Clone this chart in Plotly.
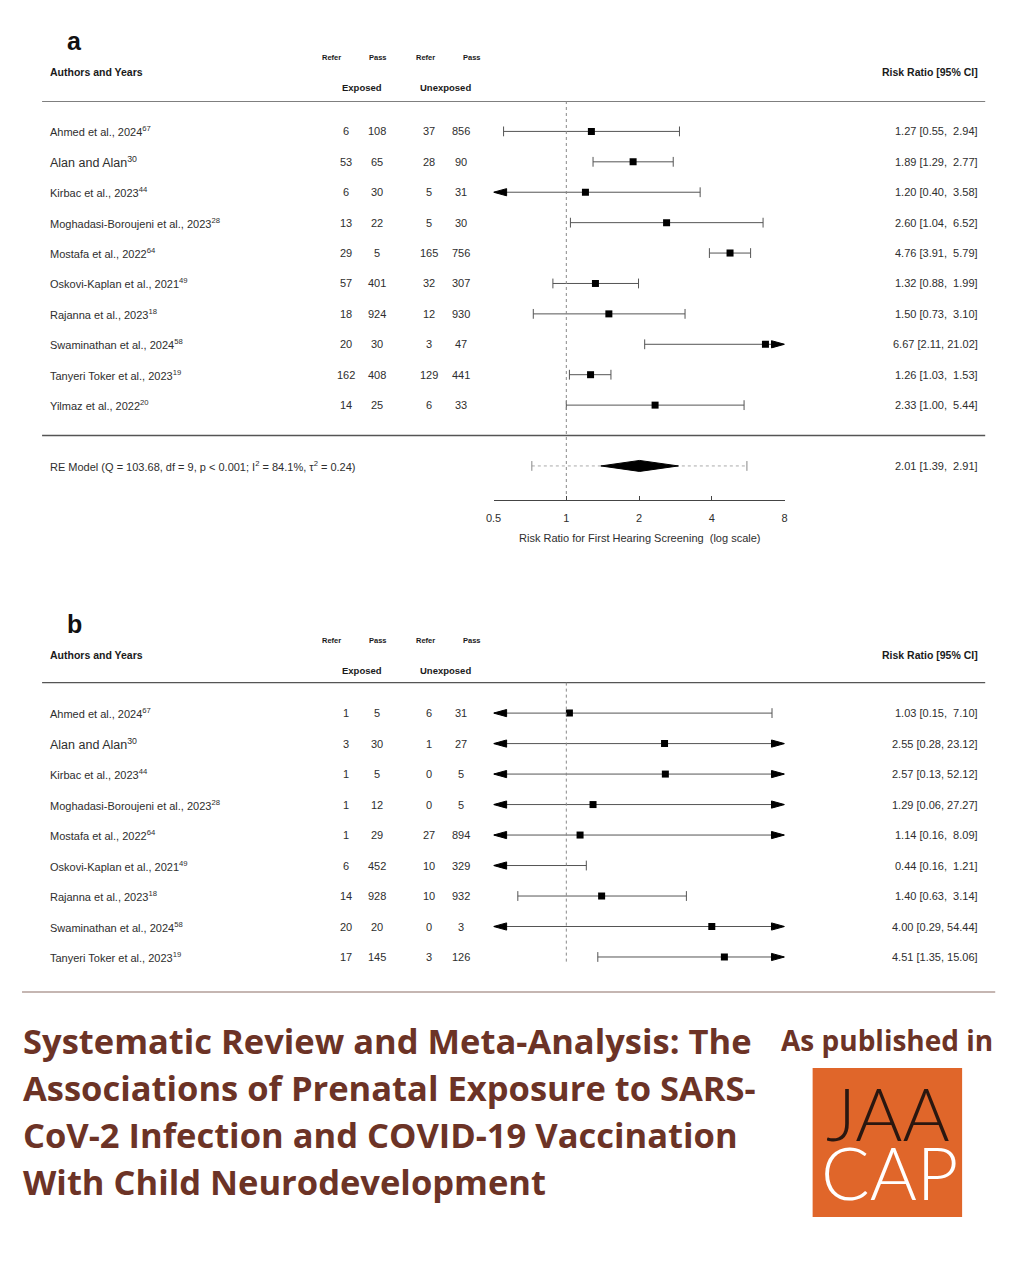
import plotly.graph_objects as go

# ---- data: panel a (first hearing screening) ----
a_studies = ["Ahmed et al., 2024<sup>67</sup>", "Alan and Alan<sup>30</sup>", "Kirbac et al., 2023<sup>44</sup>",
             "Moghadasi-Boroujeni et al., 2023<sup>28</sup>", "Mostafa et al., 2022<sup>64</sup>",
             "Oskovi-Kaplan et al., 2021<sup>49</sup>", "Rajanna et al., 2023<sup>18</sup>",
             "Swaminathan et al., 2024<sup>58</sup>", "Tanyeri Toker et al., 2023<sup>19</sup>",
             "Yilmaz et al., 2022<sup>20</sup>"]
a_exp_refer = [6, 53, 6, 13, 29, 57, 18, 20, 162, 14]
a_exp_pass = [108, 65, 30, 22, 5, 401, 924, 30, 408, 25]
a_unexp_refer = [37, 28, 5, 5, 165, 32, 12, 3, 129, 6]
a_unexp_pass = [856, 90, 31, 30, 756, 307, 930, 47, 441, 33]
a_rr = [1.27, 1.89, 1.20, 2.60, 4.76, 1.32, 1.50, 6.67, 1.26, 2.33]
a_lo = [0.55, 1.29, 0.40, 1.04, 3.91, 0.88, 0.73, 2.11, 1.03, 1.00]
a_hi = [2.94, 2.77, 3.58, 6.52, 5.79, 1.99, 3.10, 21.02, 1.53, 5.44]

re_label = "RE Model (Q = 103.68, df = 9, p < 0.001; I<sup>2</sup> = 84.1%, \u03c4<sup>2</sup> = 0.24)"
re_rr, re_lo, re_hi = 2.01, 1.39, 2.91
re_pi_lo, re_pi_hi = 0.72, 5.59

# ---- data: panel b ----
b_studies = a_studies[:9]
b_exp_refer = [1, 3, 1, 1, 1, 6, 14, 20, 17]
b_exp_pass = [5, 30, 5, 12, 29, 452, 928, 20, 145]
b_unexp_refer = [6, 1, 0, 0, 27, 10, 10, 0, 3]
b_unexp_pass = [31, 27, 5, 5, 894, 329, 932, 3, 126]
b_rr = [1.03, 2.55, 2.57, 1.29, 1.14, 0.44, 1.40, 4.00, 4.51]
b_lo = [0.15, 0.28, 0.13, 0.06, 0.16, 0.16, 0.63, 0.29, 1.35]
b_hi = [7.10, 23.12, 52.12, 27.27, 8.09, 1.21, 3.14, 54.44, 15.06]

x_ticks = [0.5, 1, 2, 4, 8]
x_title = "Risk Ratio for First Hearing Screening\u00a0\u00a0(log scale)"

title_lines = ["Systematic Review and Meta-Analysis: The",
               "Associations of Prenatal Exposure to SARS-",
               "CoV-2 Infection and COVID-19 Vaccination",
               "With Child Neurodevelopment"]

XMIN, XMAX = 0.5, 8
TXT = "#2e2e2e"
HDR = "#1a1a1a"
CI = "#555555"
BROWN = "#6c3326"
FONT = "Liberation Sans, Arial, sans-serif"


# pixel positions of the reference -> paper fractions (compensates page offset seen in the render)
def px(p):
    return (p - 16) / 0.986 / 1024


def py(p):
    return 1 - (p - 8) / 1280


def fmt_ci(est, lo, hi):
    return "%.2f [%.2f, %s]" % (est, lo, ("%.2f" % hi).rjust(5, "\u00a0"))


def note(fig, x, y, text, size, color=TXT, xanchor="center", xref="paper", yref="paper", family=FONT, **kw):
    fig.add_annotation(x=x, y=y, xref=xref, yref=yref, text=text, showarrow=False,
                       xanchor=xanchor, yanchor="middle",
                       font=dict(size=size, color=color, family=family, **kw))


def add_forest(fig, xr, yr, studies, er, ep, ur, up, rr, lo, hi, row_h):
    k = len(studies)
    rows = list(range(k, 0, -1))
    arrow_f = 2 ** (13 / 72.5)
    arrow_h = 3.6 / row_h

    line_x, line_y, cap_x, cap_y, tri_x, tri_y, sq_x, sq_y = [], [], [], [], [], [], [], []
    for r, e, l, h in zip(rows, rr, lo, hi):
        line_x += [max(l, XMIN), min(h, XMAX), None]
        line_y += [r, r, None]
        if l >= XMIN:
            cap_x.append(l); cap_y.append(r)
        else:
            tri_x += [XMIN, XMIN * arrow_f, XMIN * arrow_f, XMIN, None]
            tri_y += [r, r + arrow_h, r - arrow_h, r, None]
        if h <= XMAX:
            cap_x.append(h); cap_y.append(r)
        else:
            tri_x += [XMAX, XMAX / arrow_f, XMAX / arrow_f, XMAX, None]
            tri_y += [r, r + arrow_h, r - arrow_h, r, None]
        if XMIN <= e <= XMAX:
            sq_x.append(e); sq_y.append(r)

    fig.add_trace(go.Scatter(x=line_x, y=line_y, mode="lines", line=dict(color=CI, width=1),
                             xaxis=xr, yaxis=yr, hoverinfo="skip"))
    fig.add_trace(go.Scatter(x=cap_x, y=cap_y, mode="markers", xaxis=xr, yaxis=yr, hoverinfo="skip",
                             marker=dict(symbol="line-ns", size=7, line=dict(color=CI, width=1))))
    if tri_x:
        fig.add_trace(go.Scatter(x=tri_x, y=tri_y, mode="lines", fill="toself", fillcolor="black",
                                 line=dict(color="black", width=1), xaxis=xr, yaxis=yr,
                                 hoverinfo="skip", cliponaxis=False))
    fig.add_trace(go.Scatter(x=sq_x, y=sq_y, mode="markers", xaxis=xr, yaxis=yr,
                             marker=dict(symbol="square", size=7, color="black")))

    yref = "y" if yr == "y" else "y2"
    cols = [(345, er), (376, ep), (428, ur), (460, up)]
    for i, r in enumerate(rows):
        size = 12.5 if studies[i].startswith("Alan") else 11
        note(fig, px(48), r, studies[i], size, xanchor="left", yref=yref)
        for cx, vals in cols:
            note(fig, px(cx), r, str(vals[i]), 11, yref=yref)
        note(fig, px(977), r, fmt_ci(rr[i], lo[i], hi[i]), 11, xanchor="right", yref=yref)


def add_headers(fig, letter, top):
    # top = pixel y of the panel letter
    note(fig, px(74), py(top), "<b>%s</b>" % letter, 25, color="#111")
    for cx, t in [(330, "Refer"), (377, "Pass"), (424, "Refer"), (470, "Pass")]:
        note(fig, px(cx), py(top + 16), "<b>%s</b>" % t, 7.5, color=HDR)
    note(fig, px(48), py(top + 31), "<b>Authors and Years</b>", 10.5, color=HDR, xanchor="left")
    note(fig, px(977), py(top + 31), "<b>Risk Ratio [95% CI]</b>", 10.5, color=HDR, xanchor="right")
    for cx, t in [(361, "Exposed"), (444, "Unexposed")]:
        note(fig, px(cx), py(top + 46), "<b>%s</b>" % t, 9.5, color=HDR)


fig = go.Figure()

add_forest(fig, "x", "y", a_studies, a_exp_refer, a_exp_pass, a_unexp_refer, a_unexp_pass,
           a_rr, a_lo, a_hi, 30.44)
add_forest(fig, "x2", "y2", b_studies, b_exp_refer, b_exp_pass, b_unexp_refer, b_unexp_pass,
           b_rr, b_lo, b_hi, 30.5)

# pooled estimate (panel a)
fig.add_trace(go.Scatter(x=[re_pi_lo, re_pi_hi], y=[-1, -1], mode="lines", xaxis="x", yaxis="y",
                         line=dict(color="#aaa", width=1, dash="dot"), hoverinfo="skip"))
fig.add_trace(go.Scatter(x=[re_pi_lo, re_pi_hi], y=[-1, -1], mode="markers", xaxis="x", yaxis="y",
                         marker=dict(symbol="line-ns", size=7, line=dict(color="#888", width=1)),
                         hoverinfo="skip"))
dh = 5.5 / 30.44
fig.add_trace(go.Scatter(x=[re_lo, re_rr, re_hi, re_rr, re_lo], y=[-1, -1 + dh, -1, -1 - dh, -1],
                         mode="lines", fill="toself", fillcolor="black", line=dict(color="black", width=1),
                         xaxis="x", yaxis="y"))
note(fig, px(48), -1, re_label, 11, xanchor="left", yref="y")
note(fig, px(977), -1, fmt_ci(re_rr, re_lo, re_hi), 11, xanchor="right", yref="y")
note(fig, px(637), py(538), x_title, 11)

add_headers(fig, "a", 41)
add_headers(fig, "b", 624)

# rules and reference lines
shapes = [
    dict(type="line", xref="paper", yref="y", x0=px(42), x1=px(982), y0=11, y1=11, line=dict(color="#555", width=1.5)),
    dict(type="line", xref="paper", yref="y", x0=px(42), x1=px(982), y0=0, y1=0, line=dict(color="#555", width=1.5)),
    dict(type="line", xref="paper", yref="y2", x0=px(42), x1=px(982), y0=10, y1=10, line=dict(color="#555", width=1.5)),
    dict(type="line", xref="x", yref="y", x0=1, x1=1, y0=11, y1=-2.0, line=dict(color="#888", width=1, dash="dot")),
    dict(type="line", xref="x2", yref="y2", x0=1, x1=1, y0=10, y1=0.8, line=dict(color="#888", width=1, dash="dot")),
    dict(type="line", xref="paper", yref="paper", x0=px(22), x1=px(992), y0=py(992), y1=py(992),
         line=dict(color="#8c6f66", width=1.2)),
    dict(type="rect", xref="paper", yref="paper", x0=px(810), x1=px(959), y0=py(1217), y1=py(1068),
         fillcolor="#e0662a", line=dict(width=0)),
]

# footer text
for i, t in enumerate(title_lines):
    note(fig, px(21), py(1040 + 47 * i), "<b>%s</b>" % t, 34.5, color=BROWN, xanchor="left", family="Open Sans")
note(fig, px(884), py(1040), "<b>As published in</b>", 28, color=BROWN, family="Open Sans")
note(fig, px(885), py(1113), "JAA", 72, color="#2a1710", family="Lato", weight=300)
note(fig, px(887), py(1172), "CAP", 72, color="white", family="Lato", weight=300)

axis_common = dict(type="log", range=[-0.30103, 0.90309], domain=[px(492), px(782)],
                   showgrid=False, zeroline=False)

fig.update_layout(
    width=1024, height=1280,
    margin=dict(l=0, r=0, t=0, b=0),
    paper_bgcolor="white", plot_bgcolor="rgba(0,0,0,0)",
    showlegend=False,
    shapes=shapes,
    xaxis=dict(**axis_common, anchor="y", tickvals=x_ticks, ticktext=[str(v) for v in x_ticks],
               showline=True, linecolor="#444", linewidth=1.2, ticks="inside", ticklen=4,
               tickcolor="#444", ticklabelstandoff=8, tickfont=dict(size=11, color=TXT, family=FONT)),
    yaxis=dict(domain=[py(500), py(101)], range=[-2.12, 11], visible=False),
    xaxis2=dict(**axis_common, anchor="y2", visible=False),
    yaxis2=dict(domain=[py(964), py(682)], range=[0.77, 10.02], visible=False),
)

fig.write_html("out.html")
